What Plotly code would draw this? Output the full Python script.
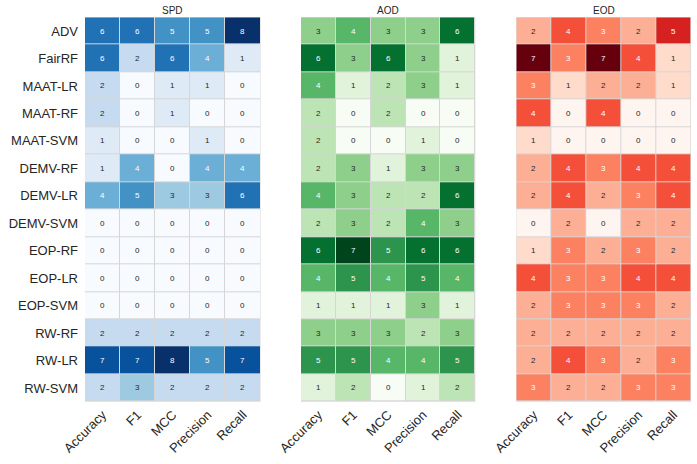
import plotly.graph_objects as go

methods = ["ADV", "FairRF", "MAAT-LR", "MAAT-RF", "MAAT-SVM", "DEMV-RF", "DEMV-LR",
           "DEMV-SVM", "EOP-RF", "EOP-LR", "EOP-SVM", "RW-RF", "RW-LR", "RW-SVM"]
metrics = ["Accuracy", "F1", "MCC", "Precision", "Recall"]

spd = [
    [6, 6, 5, 5, 8],
    [6, 2, 6, 4, 1],
    [2, 0, 1, 1, 0],
    [2, 0, 1, 0, 0],
    [1, 0, 0, 1, 0],
    [1, 4, 0, 4, 4],
    [4, 5, 3, 3, 6],
    [0, 0, 0, 0, 0],
    [0, 0, 0, 0, 0],
    [0, 0, 0, 0, 0],
    [0, 0, 0, 0, 0],
    [2, 2, 2, 2, 2],
    [7, 7, 8, 5, 7],
    [2, 3, 2, 2, 2],
]
aod = [
    [3, 4, 3, 3, 6],
    [6, 3, 6, 3, 1],
    [4, 1, 2, 3, 1],
    [2, 0, 2, 0, 0],
    [2, 0, 0, 1, 0],
    [2, 3, 1, 3, 3],
    [4, 3, 2, 2, 6],
    [2, 3, 2, 4, 3],
    [6, 7, 5, 6, 6],
    [4, 5, 4, 5, 4],
    [1, 1, 1, 3, 1],
    [3, 3, 3, 2, 3],
    [5, 5, 4, 4, 5],
    [1, 2, 0, 1, 2],
]
eod = [
    [2, 4, 3, 2, 5],
    [7, 3, 7, 4, 1],
    [3, 1, 2, 2, 1],
    [4, 0, 4, 0, 0],
    [1, 0, 0, 0, 0],
    [2, 4, 3, 4, 4],
    [2, 4, 2, 3, 4],
    [0, 2, 0, 2, 2],
    [1, 3, 2, 3, 2],
    [4, 3, 3, 4, 4],
    [2, 3, 3, 3, 2],
    [2, 2, 2, 2, 2],
    [2, 4, 3, 2, 3],
    [3, 2, 2, 3, 3],
]
titles = ["SPD", "AOD", "EOD"]

BLUES = ['#f7fbff', '#deebf7', '#c6dbef', '#9ecae1', '#6baed6', '#4292c6', '#2171b5', '#08519c', '#08306b']
GREENS = ['#f7fcf5', '#e5f5e0', '#c7e9c0', '#a1d99b', '#74c476', '#41ab5d', '#238b45', '#006d2c', '#00441b']
REDS = ['#fff5f0', '#fee0d2', '#fcbba1', '#fc9272', '#fb6a4a', '#ef3b2c', '#cb181d', '#a50f15', '#67000d']


def hex2rgb(h):
    h = h.lstrip('#')
    return [int(h[i:i + 2], 16) / 255 for i in (0, 2, 4)]


def interp(colors, t):
    n = len(colors) - 1
    pos = min(max(t, 0), 1) * n
    i = min(int(pos), n - 1)
    f = pos - i
    a, b = hex2rgb(colors[i]), hex2rgb(colors[i + 1])
    return [a[k] + (b[k] - a[k]) * f for k in range(3)]


def lum(rgb):
    lin = [c / 12.92 if c <= 0.03928 else ((c + 0.055) / 1.055) ** 2.4 for c in rgb]
    return 0.2126 * lin[0] + 0.7152 * lin[1] + 0.0722 * lin[2]


FONT = "Arial, Liberation Sans, sans-serif"
xdoms = [(85 / 697, 260.5 / 697), (301 / 697, 475.3 / 697), (516.3 / 697, 691 / 697)]
ydom = (1 - 401.7 / 464, 1 - 17.3 / 464)

fig = go.Figure()
annotations = []
datasets = [spd, aod, eod]
cmaps = [BLUES, GREENS, REDS]
for p in range(3):
    z = datasets[p]
    cm = cmaps[p]
    zmin = min(min(r) for r in z)
    zmax = max(max(r) for r in z)
    cs = [[i / (len(cm) - 1), c] for i, c in enumerate(cm)]
    sfx = "" if p == 0 else str(p + 1)
    fig.add_trace(go.Heatmap(
        z=z, x=metrics, y=methods, colorscale=cs, zmin=zmin, zmax=zmax,
        showscale=False, xgap=1, ygap=1, hoverinfo="skip",
        xaxis="x" + sfx, yaxis="y" + sfx))
    for i, m in enumerate(methods):
        for j, k in enumerate(metrics):
            v = z[i][j]
            rgb = interp(cm, (v - zmin) / (zmax - zmin))
            col = "#262626" if lum(rgb) > 0.408 else "#ffffff"
            annotations.append(dict(
                x=k, y=m, xref="x" + sfx, yref="y" + sfx, text=str(v),
                showarrow=False, font=dict(size=8, color=col, family=FONT)))
    annotations.append(dict(
        x=(xdoms[p][0] + xdoms[p][1]) / 2, y=1 - 10 / 464, xref="paper", yref="paper",
        xanchor="center", yanchor="middle",
        text=titles[p], showarrow=False, font=dict(size=10, color="#262626", family=FONT)))
    fig.update_layout(**{
        "xaxis" + sfx: dict(domain=list(xdoms[p]), anchor="y" + sfx, tickangle=-45,
                            showgrid=False, zeroline=False, ticks="", automargin=False,
                            tickfont=dict(size=13, color="#262626", family=FONT),
                            ticklabelstandoff=2),
        "yaxis" + sfx: dict(domain=list(ydom), anchor="x" + sfx, autorange="reversed",
                            showgrid=False, zeroline=False, ticks="", automargin=False,
                            showticklabels=(p == 0),
                            tickfont=dict(size=13, color="#262626", family=FONT),
                            ticklabelstandoff=6),
    })

fig.update_layout(
    width=697, height=464, margin=dict(l=0, r=0, t=0, b=0),
    paper_bgcolor="white", plot_bgcolor="#d6d6d6",
    annotations=annotations, showlegend=False,
)
fig.write_html("out.html", config={"displayModeBar": False},
               post_script="document.body.style.margin='0';document.body.style.overflow='hidden';")
